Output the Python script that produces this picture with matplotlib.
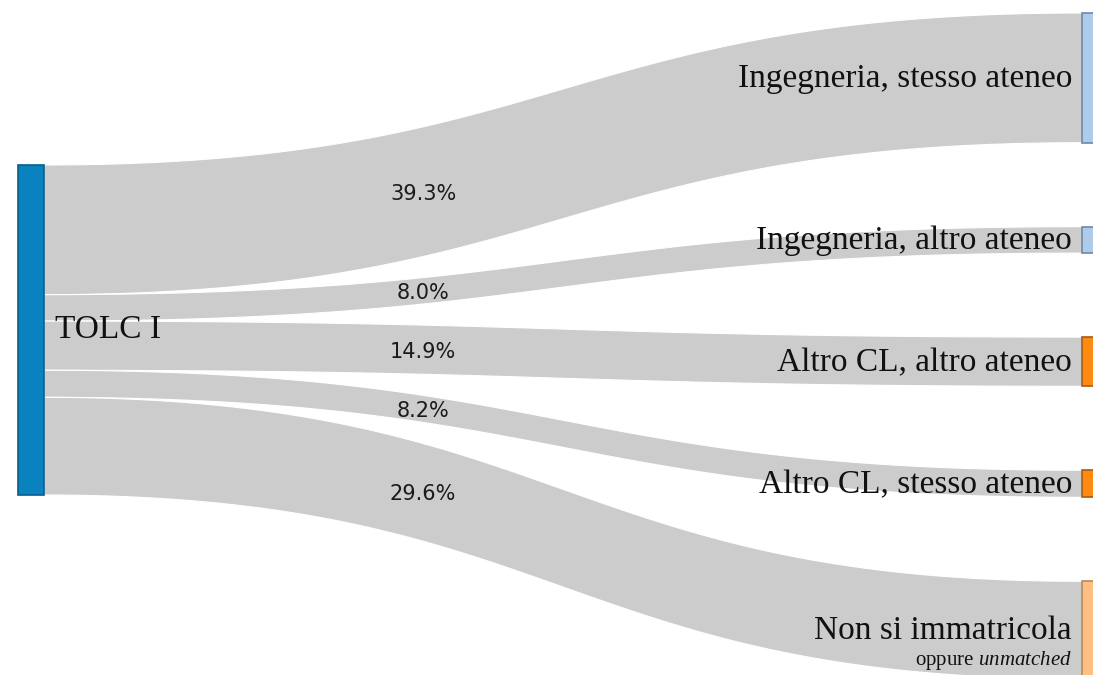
"""Sankey: esiti dei partecipanti al TOLC I."""
import matplotlib
matplotlib.use("Agg")
import matplotlib.pyplot as plt
import numpy as np
from matplotlib.patches import PathPatch, Rectangle
from matplotlib.path import Path as MplPath

# --------------------------------------------------------------------------- #
# data
# --------------------------------------------------------------------------- #
source_label = "TOLC I"
target_labels = [
    "Ingegneria, stesso ateneo",
    "Ingegneria, altro ateneo",
    "Altro CL, altro ateneo",
    "Altro CL, stesso ateneo",
    "Non si immatricola",
]
shares = [39.3, 8.0, 14.9, 8.2, 29.6]  # % of TOLC I takers

# --------------------------------------------------------------------------- #
# layout / style (pixel space, y grows downward)
# --------------------------------------------------------------------------- #
W, H = 1093, 675
PX_PER_PCT = 3.3
NODE_W = 26
SRC_X, SRC_TOP = 18, 165
TGT_X, TGT_TOP, TGT_GAP = 1082, 13, 84

SRC_COLOR, SRC_EDGE = "#0a82bf", "#0b5d87"
TGT_COLORS = ["#aecbea", "#aecbea", "#ff8a12", "#ff8a12", "#ffbf82"]
TGT_EDGES = ["#6d89a8", "#6d89a8", "#a65a14", "#a65a14", "#b8875a"]
LINK_COLOR = "#cccccc"
SERIF = ["Liberation Serif", "DejaVu Serif"]

# italic run inside the small note must stay in the serif face
plt.rcParams["mathtext.fontset"] = "custom"
plt.rcParams["mathtext.rm"] = "Liberation Serif"
plt.rcParams["mathtext.it"] = "Liberation Serif:italic"


def bezier_band(x0, x1, y0a, y0b, y1a, y1b, n=80):
    t = np.linspace(0, 1, n)
    xs = x0 + (x1 - x0) * (1.5 * t * (1 - t) + t ** 3)
    s = 3 * t ** 2 - 2 * t ** 3
    top = y0a + (y1a - y0a) * s
    bot = y0b + (y1b - y0b) * s
    verts = np.concatenate([np.column_stack([xs, top]),
                            np.column_stack([xs[::-1], bot[::-1]]),
                            [[xs[0], top[0]]]])
    codes = [MplPath.MOVETO] + [MplPath.LINETO] * (len(verts) - 2) + [MplPath.CLOSEPOLY]
    return MplPath(verts, codes)


def centre_at(xq, x0, x1, y0, y1):
    t = np.linspace(0, 1, 2001)
    xs = x0 + (x1 - x0) * (1.5 * t * (1 - t) + t ** 3)
    s = 3 * t ** 2 - 2 * t ** 3
    return np.interp(xq, xs, y0 + (y1 - y0) * s)


fig = plt.figure(figsize=(W / 100, H / 100), dpi=100)
ax = fig.add_axes([0, 0, 1, 1])
ax.set_xlim(0, W)
ax.set_ylim(H, 0)
ax.set_axis_off()

heights = [p * PX_PER_PCT for p in shares]
src_h = sum(heights)

# links
src_y = SRC_TOP
tgt_y = TGT_TOP
for label, share, h, fc, ec in zip(target_labels, shares, heights, TGT_COLORS, TGT_EDGES):
    x0, x1 = SRC_X + NODE_W, TGT_X
    ax.add_patch(PathPatch(bezier_band(x0, x1, src_y, src_y + h, tgt_y, tgt_y + h),
                           facecolor=LINK_COLOR, edgecolor="white", linewidth=0.8,
                           zorder=1))
    ym = centre_at(422, x0, x1, src_y + h / 2, tgt_y + h / 2)
    ax.text(423, ym + 2, f"{share:.1f}%", ha="center", va="center",
            fontsize=15, family="DejaVu Sans", color="#1a1a1a", zorder=3)

    # target node and its label
    ax.add_patch(Rectangle((TGT_X, tgt_y), NODE_W, h, facecolor=fc,
                           edgecolor=ec, linewidth=1.2, zorder=2))
    ax.text(TGT_X - 10, tgt_y + h / 2 + 1, label, ha="right", va="center",
            fontsize=24, family=SERIF, color="#111111", zorder=3)
    if label == "Non si immatricola":
        ax.text(TGT_X - 10, tgt_y + h / 2 + 30, "oppure $\\it{unmatched}$",
                ha="right", va="center", fontsize=15, family=SERIF,
                color="#111111", zorder=3)

    src_y += h
    tgt_y += h + TGT_GAP

# source node
ax.add_patch(Rectangle((SRC_X, SRC_TOP), NODE_W, src_h, facecolor=SRC_COLOR,
                       edgecolor=SRC_EDGE, linewidth=1.2, zorder=2))
ax.text(SRC_X + NODE_W + 11, SRC_TOP + src_h / 2, source_label, ha="left",
        va="center", fontsize=24, family=SERIF, color="#111111", zorder=3)

fig.savefig("out.png", dpi=100, facecolor="white")
